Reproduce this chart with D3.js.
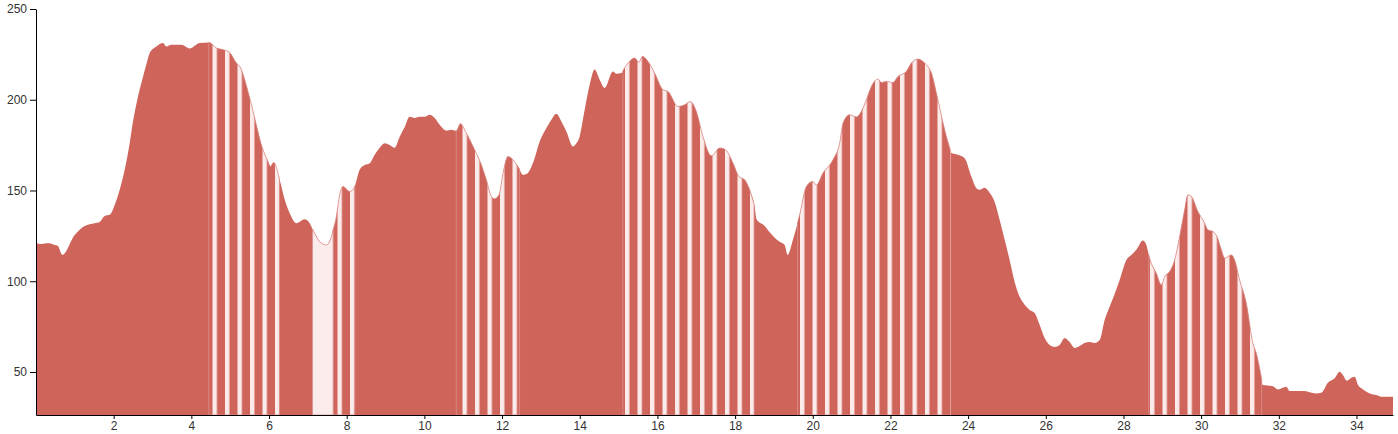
<!DOCTYPE html>
<html><head><meta charset="utf-8">
<script src="https://cdn.jsdelivr.net/npm/d3@7"></script>
<style>
html,body{margin:0;padding:0;background:#fff;}
svg{display:block;}
.axis text{font-family:"Liberation Sans",Arial,sans-serif;font-size:12px;fill:#333;}
.axis path,.axis line{stroke:#000;}
</style></head>
<body><svg id="chart" width="1398" height="434"></svg>
<script>
const distance = [0,0.095,0.275,0.353,0.481,0.559,0.68,0.996,1.254,1.511,1.64,1.769,1.898,2.026,2.155,2.284,2.412,2.49,2.618,2.747,2.842,2.927,3.1,3.27,3.357,3.486,3.744,3.957,4.215,4.454,4.645,4.815,4.987,5.16,5.245,5.458,5.631,5.803,5.973,6.035,6.12,6.274,6.403,6.532,6.704,6.918,7.047,7.132,7.348,7.477,7.606,7.734,7.819,7.904,8.077,8.205,8.334,8.463,8.592,8.72,8.849,8.978,9.107,9.235,9.364,9.493,9.621,9.75,9.879,10.008,10.136,10.265,10.394,10.566,10.695,10.824,10.927,11.081,11.295,11.468,11.596,11.725,11.81,11.921,12.042,12.152,12.24,12.41,12.539,12.642,12.796,12.969,13.141,13.27,13.398,13.527,13.656,13.826,13.913,13.998,14.127,14.256,14.384,14.513,14.642,14.856,14.943,15.072,15.242,15.414,15.525,15.613,15.757,15.929,16.143,16.272,16.529,16.702,16.849,17.003,17.173,17.389,17.603,17.757,17.945,18.1,18.247,18.375,18.504,18.556,18.762,18.89,19.019,19.148,19.277,19.354,19.49,19.663,19.835,20.005,20.093,20.263,20.52,20.693,20.778,20.95,21.123,21.251,21.38,21.509,21.679,21.766,21.895,22.065,22.194,22.41,22.539,22.709,22.881,23.054,23.223,23.396,23.568,23.738,23.911,24.083,24.212,24.297,24.426,24.554,24.683,24.812,24.941,25.069,25.198,25.327,25.456,25.584,25.713,25.842,25.971,26.099,26.228,26.357,26.486,26.614,26.743,26.872,27.0,27.129,27.258,27.387,27.515,27.644,27.773,27.902,28.074,28.203,28.331,28.501,28.589,28.674,28.846,28.975,29.06,29.189,29.318,29.446,29.575,29.66,29.748,29.918,30.09,30.175,30.304,30.407,30.52,30.605,30.777,30.862,30.991,31.163,31.333,31.421,31.591,31.849,31.977,32.194,32.279,32.621,32.966,33.094,33.264,33.437,33.565,33.65,33.753,33.867,33.952,34.04,34.17,34.34,34.51,34.64,34.94];
const elevation = [121.3,120.5,121,121,120,119.5,114.5,125.5,130.5,132,132.7,136,136.6,142,150.4,161.4,176,187,201,212,219.5,225.8,229.4,231.3,229.4,230.3,230.3,228.3,231.3,231.6,228.5,227.6,226,220.2,218.4,204.6,190,175.2,166,163.2,165.4,155.9,145,137.5,132,134.2,132,128.3,121,120,124.6,135.6,147.6,152.2,149.4,152.2,161.4,164,165,169.7,173.5,176,175,173.5,179.6,185,190.6,190,190.6,190.6,191.7,190,186.2,183,183.5,182.9,186.8,181.6,172.4,164.1,155.9,146.7,145.4,147.6,161.4,168.7,167.8,163.2,158.6,159.2,165.1,177,184.4,189,192.3,188,182.5,174.2,176,179.8,194.5,208.3,216.6,211,206.5,215.6,214.3,214.7,220.2,223,220.6,223.9,221.1,214.7,205.5,204.6,196.3,197.2,199,193.5,179.8,169.1,173.4,172.4,165.1,157.7,155.9,150.4,141.1,134,130.5,127,124,121.7,120,114.5,122.8,136.6,152.2,155,153,159.6,166.9,176.1,187.1,191.7,190.5,193.5,200,207.3,211.4,209.5,210.1,209.5,212.8,215.6,220.2,222.4,220.2,214.7,200,183.5,170.6,169.7,167.8,157.7,151.3,150.4,151.5,148.7,143.7,133.8,122.8,111.7,99.6,91.4,87,84.2,82.5,75.9,68.7,64.9,63.8,64.9,68.7,66.5,63.2,64.3,66,66.5,66,67.6,78.7,86,93,100.7,111.7,114.5,117.3,122.4,120,112.7,104.4,98,102.5,105.3,111.7,124.6,139.3,147.6,146.7,138.4,132,128.3,127.4,124.6,117.3,112.7,114.5,111.7,100.7,87.9,65.8,60.3,42.8,42.2,40.4,41.9,39.5,39.5,38.2,38.6,44.1,46.5,50.1,48.3,45.2,46.8,47.4,42.8,40.4,38.2,37.3,36.3,36.3];
const stripedSections = [[4.45,6.27],[7.65,8.21],[10.82,12.45],[15.11,18.49],[19.61,23.55],[28.65,31.56]];
const paleSections = [[7.12,7.65]];
const xTicks = [2,4,6,8,10,12,14,16,18,20,22,24,26,28,30,32,34];
const yTicks = [50,100,150,200,250];

const margin = {left:36, top:9, right:5, bottom:19};
const iw = 1357, ih = 406;
const svg = d3.select('#chart');
const g = svg.append('g').attr('transform',`translate(${margin.left},${margin.top})`);
const x = d3.scaleLinear().domain([0,34.94]).range([0,iw]);
const y = d3.scaleLinear().domain([26.3,250]).range([ih,0]);
const pts = distance.map((d,i)=>({d, e:elevation[i]}));

const RED = '#cf645b', PALE = '#fbeceb', LINE = '#dc918c';
const defs = svg.append('defs');
const pat = defs.append('pattern').attr('id','stripes').attr('patternUnits','userSpaceOnUse')
  .attr('x',-margin.left).attr('y',0).attr('width',12.5).attr('height',10);
pat.append('rect').attr('width',12.5).attr('height',10).attr('fill',RED);
pat.append('rect').attr('x',0).attr('width',4.4).attr('height',10).attr('fill',PALE);

const area = d3.area().x(p=>x(p.d)).y0(ih).y1(p=>y(p.e)).curve(d3.curveMonotoneX);
g.append('path').datum(pts).attr('d',area).attr('fill',RED);

function elevAt(v){
  for(let i=1;i<pts.length;i++){
    if(pts[i].d>=v){const a=pts[i-1],b=pts[i];const t=(v-a.d)/(b.d-a.d);return a.e+t*(b.e-a.e);}
  }
  return pts[pts.length-1].e;
}
function section(a,b){
  const s=[{d:a,e:elevAt(a)}];
  pts.forEach(p=>{if(p.d>a&&p.d<b)s.push(p);});
  s.push({d:b,e:elevAt(b)});
  return s;
}
stripedSections.forEach(([a,b])=>{
  g.append('path').datum(section(a,b)).attr('d',area).attr('fill','url(#stripes)')
   .attr('stroke',LINE).attr('stroke-width',0.8);
});
paleSections.forEach(([a,b])=>{
  g.append('path').datum(section(a,b)).attr('d',area).attr('fill',PALE)
   .attr('stroke',LINE).attr('stroke-width',0.8);
});

g.append('g').attr('class','axis').attr('transform',`translate(0,${ih})`)
 .call(d3.axisBottom(x).tickValues(xTicks).tickFormat(d3.format('d')).tickSize(4).tickSizeOuter(0).tickPadding(2));
g.append('g').attr('class','axis')
 .call(d3.axisLeft(y).tickValues(yTicks).tickSizeOuter(0));
</script></body></html>
